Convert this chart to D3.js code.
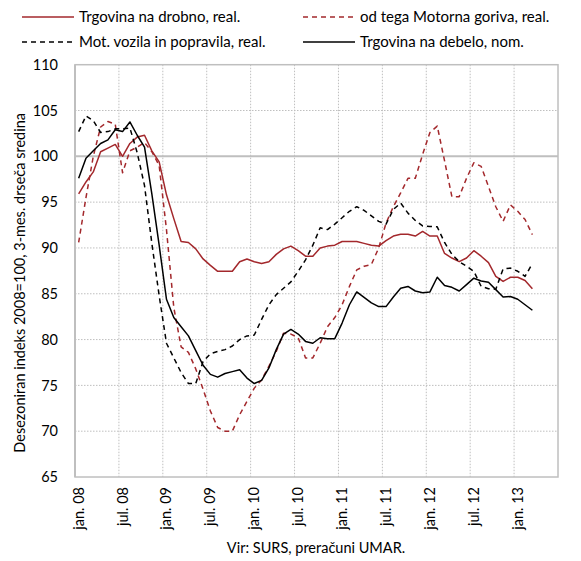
<!DOCTYPE html>
<html><head><meta charset="utf-8">
<script src="https://cdn.jsdelivr.net/npm/d3@7"></script>
<style>
body{margin:0;background:#fff;}
svg{display:block;font-family:Lato,"Open Sans",sans-serif;}
</style></head>
<body><svg id="c" width="581" height="561"></svg>
<script>
// ---- data ----
const monthNames = ["jan","feb","mar","apr","maj","jun","jul","avg","sep","okt","nov","dec"];
const years = ["08","09","10","11","12","13"];
const categories = [];
years.forEach(yy => monthNames.forEach((m,i) => { if (categories.length < 66) categories.push(m + ". " + yy); }));
const tickLabels = ["jan. 08","jul. 08","jan. 09","jul. 09","jan. 10","jul. 10","jan. 11","jul. 11","jan. 12","jul. 12","jan. 13"];
const yTicks = [65,70,75,80,85,90,95,100,105,110];

const retailReal = [95.9,97.2,98.3,100.5,100.9,101.3,100.0,101.4,102.1,102.3,100.6,99.4,95.8,93.2,90.7,90.6,89.9,88.8,88.1,87.45,87.45,87.45,88.5,88.8,88.5,88.3,88.5,89.3,89.9,90.2,89.7,89.1,89.1,90.0,90.2,90.3,90.7,90.7,90.7,90.5,90.3,90.2,90.8,91.3,91.5,91.5,91.3,91.8,91.3,91.3,89.4,88.9,88.5,88.9,89.7,89.1,88.4,86.9,86.35,86.8,86.8,86.45,85.55];
const fuelReal = [90.6,95.5,100.0,103.2,103.8,103.5,98.2,100.6,101.0,101.5,100.5,99.0,92.0,83.5,79.2,78.6,76.8,74.6,72.2,70.4,70.0,70.0,71.8,73.25,74.7,75.6,77.1,78.7,80.7,80.6,80.2,78.0,78.0,79.6,81.4,82.4,83.8,85.8,87.6,88.0,88.2,90.0,92.7,94.5,96.0,97.6,97.6,100.2,102.6,103.3,99.5,95.6,95.6,97.6,99.3,98.9,96.7,94.5,92.9,94.7,94.0,93.1,91.45];
const vehiclesReal = [102.7,104.4,103.9,102.6,102.7,103.0,103.0,103.1,100.4,96.8,90.5,84.8,79.6,78.0,76.4,75.2,75.2,77.6,78.45,78.7,78.9,79.3,80.0,80.4,80.5,82.2,83.8,84.9,85.6,86.3,87.45,88.7,90.3,92.2,92.0,92.6,93.3,94.0,94.5,94.1,93.5,92.9,92.6,94.2,94.9,93.8,93.0,92.4,92.35,92.3,90.6,89.3,88.5,88.0,87.45,85.8,85.55,85.5,87.7,87.8,87.45,86.9,88.3];
const wholesaleNom = [97.6,99.8,100.6,101.4,101.8,102.9,102.7,103.75,102.3,101.0,95.9,90.3,84.4,82.4,81.4,80.4,78.8,77.2,76.2,75.9,76.3,76.5,76.7,75.8,75.2,75.55,76.9,78.9,80.6,81.1,80.6,79.8,79.6,80.2,80.1,80.1,81.8,83.8,85.2,84.6,84.0,83.6,83.6,84.65,85.6,85.8,85.3,85.1,85.2,86.8,85.9,85.7,85.3,86.0,86.7,86.4,86.25,85.45,84.65,84.7,84.4,83.8,83.2];

const seriesNames = ["Trgovina na drobno, real.","od tega Motorna goriva, real.","Mot. vozila in popravila, real.","Trgovina na debelo, nom."];
const yTitle = "Desezoniran indeks 2008=100, 3-mes. drseča sredina";
const source = "Vir: SURS, preračuni UMAR.";

// ---- drawing ----
const RED = "#a3282c", GRID = "#bfbfbf";
const svg = d3.select("#c");
const L = 75, R = 558, T = 64.7, B = 477;
const x = d3.scaleBand().domain(categories).range([L, R]);
const y = d3.scaleLinear().domain([65, 110]).range([B, T]);
const cx = i => x(categories[i]) + x.bandwidth() / 2;

// horizontal grid
svg.append("g").selectAll("line").data(yTicks.filter(v => v !== 100 && v !== 65 && v !== 110)).join("line")
  .attr("x1", L).attr("x2", R).attr("y1", d => y(d)).attr("y2", d => y(d))
  .attr("stroke", GRID).attr("stroke-width", 1).attr("stroke-dasharray", "1.5,1.5");
// vertical grid
const vIdx = d3.range(6, 61, 6);
svg.append("g").selectAll("line").data(vIdx).join("line")
  .attr("x1", d => x(categories[d])).attr("x2", d => x(categories[d]))
  .attr("y1", T).attr("y2", B)
  .attr("stroke", GRID).attr("stroke-width", 1).attr("stroke-dasharray", "1.5,1.5");
// frame
svg.append("rect").attr("x", L).attr("y", T).attr("width", R - L).attr("height", B - T)
  .attr("fill", "none").attr("stroke", GRID).attr("stroke-width", 1.5);
svg.append("line").attr("x1", L).attr("x2", L).attr("y1", T).attr("y2", B).attr("stroke", GRID).attr("stroke-width", 2);
// 100 line
svg.append("line").attr("x1", L).attr("x2", R).attr("y1", y(100)).attr("y2", y(100))
  .attr("stroke", GRID).attr("stroke-width", 2);

// y axis labels
const yAxis = d3.axisLeft(y).tickValues(yTicks).tickSize(0).tickPadding(17);
const ya = svg.append("g").attr("transform", `translate(${L},0)`).call(yAxis);
ya.select(".domain").remove();
ya.selectAll("text").attr("font-size", 14.5).attr("font-family", "Lato, sans-serif").attr("fill", "#000");

// x axis labels
const xa = svg.append("g").selectAll("text").data(tickLabels).join("text")
  .attr("transform", d => `translate(${cx(categories.indexOf(d)) + 5},${B + 10}) rotate(-90)`)
  .attr("text-anchor", "end").attr("font-size", 14.5).attr("fill", "#000").text(d => d);

// lines
const line = d3.line().x((d, i) => cx(i)).y(d => y(d));
const series = [
  {v: retailReal, c: RED, dash: null},
  {v: fuelReal, c: RED, dash: "5,4"},
  {v: vehiclesReal, c: "#000", dash: "5,4"},
  {v: wholesaleNom, c: "#000", dash: null}
];
series.forEach(s => {
  svg.append("path").datum(s.v).attr("d", line).attr("fill", "none")
    .attr("stroke", s.c).attr("stroke-width", 1.5).attr("stroke-dasharray", s.dash)
    .attr("stroke-linejoin", "round");
});

// legend
const leg = [
  {x: 22, y: 17, s: series[0], t: seriesNames[0]},
  {x: 303, y: 17, s: series[1], t: seriesNames[1]},
  {x: 22, y: 42, s: series[2], t: seriesNames[2]},
  {x: 303, y: 42, s: series[3], t: seriesNames[3]}
];
leg.forEach(l => {
  svg.append("line").attr("x1", l.x).attr("x2", l.x + 52).attr("y1", l.y).attr("y2", l.y)
    .attr("stroke", l.s.c).attr("stroke-width", 1.5).attr("stroke-dasharray", l.s.dash);
  svg.append("text").attr("x", l.x + 57).attr("y", l.y + 5).attr("font-size", 15).attr("fill", "#000").text(l.t);
});

// y title
svg.append("text").attr("transform", `translate(25,${(T + B) / 2 + 12}) rotate(-90)`)
  .attr("text-anchor", "middle").attr("font-size", 14.5).attr("fill", "#000").text(yTitle);
// source
svg.append("text").attr("x", 316).attr("y", 553).attr("text-anchor", "middle")
  .attr("font-size", 14.5).attr("fill", "#000").text(source);
</script></body></html>
